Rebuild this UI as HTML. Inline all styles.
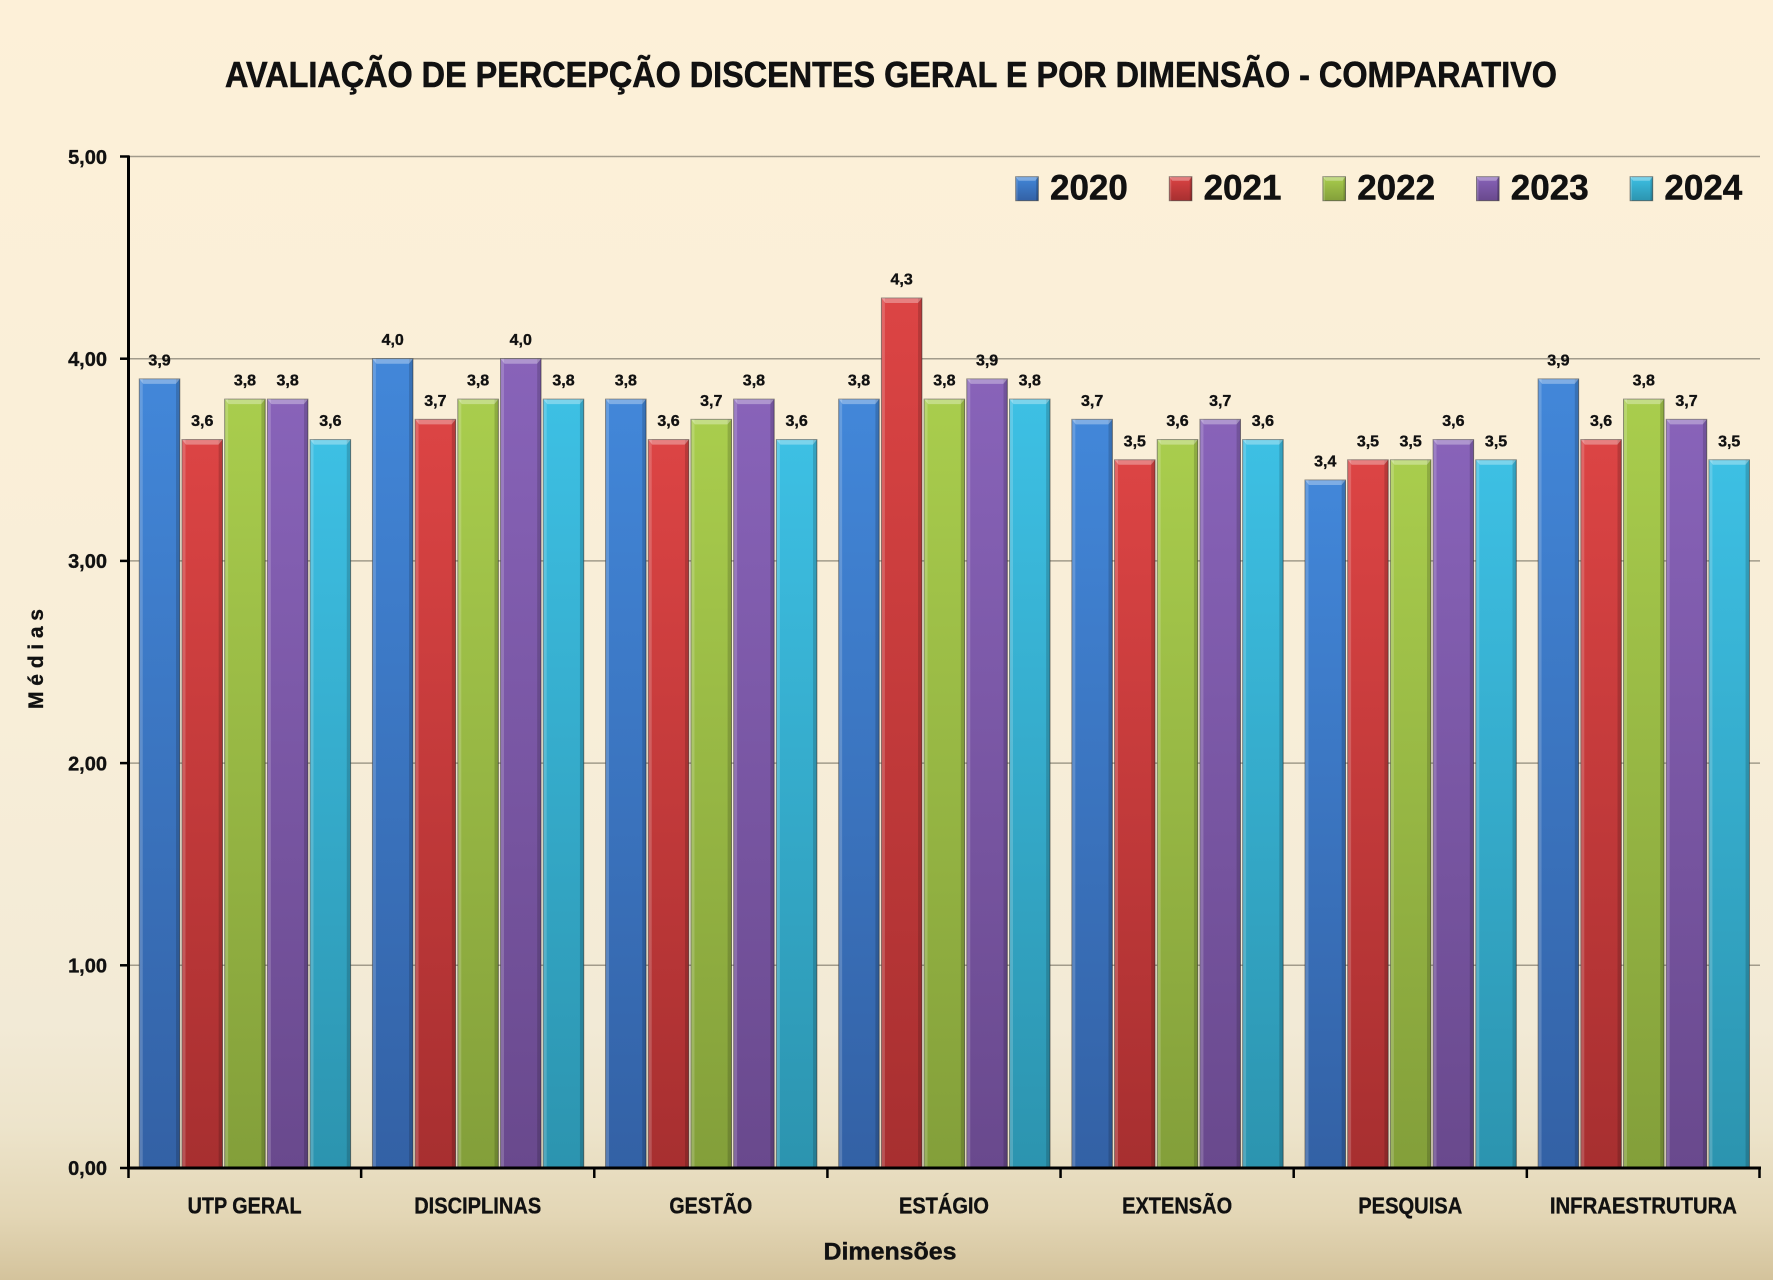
<!DOCTYPE html>
<html><head><meta charset="utf-8"><style>
html,body{margin:0;padding:0;width:1773px;height:1280px;overflow:hidden}
svg{display:block}
text{font-family:"Liberation Sans",Arial,sans-serif;font-weight:bold;fill:#111}
.o{stroke:#2a2a2a;stroke-opacity:.55;stroke-width:1}
.t{fill:#fff;opacity:.32}
.v{font-size:16px;text-anchor:middle;stroke:#111;stroke-width:.35}
.yl{font-size:20px;text-anchor:end;stroke:#111;stroke-width:.35}
.xl{font-size:23px;text-anchor:middle;stroke:#111;stroke-width:.35}
</style></head><body>
<svg width="1773" height="1280" viewBox="0 0 1773 1280" xmlns="http://www.w3.org/2000/svg">
<defs>
<linearGradient id="bg" x1="0" y1="0" x2="0" y2="1">
<stop offset="0" stop-color="#FDF0D8"/><stop offset="0.55" stop-color="#F8EED8"/><stop offset="0.8" stop-color="#F2EAD6"/><stop offset="0.88" stop-color="#EDE4CB"/><stop offset="0.95" stop-color="#E3D6B5"/><stop offset="1" stop-color="#D4C39C"/>
</linearGradient>
<linearGradient id="g0" x1="0" y1="0" x2="0" y2="1"><stop offset="0" stop-color="#4287D9"/><stop offset="1" stop-color="#3361A5"/></linearGradient>
<linearGradient id="g1" x1="0" y1="0" x2="0" y2="1"><stop offset="0" stop-color="#DC4444"/><stop offset="1" stop-color="#A72F30"/></linearGradient>
<linearGradient id="g2" x1="0" y1="0" x2="0" y2="1"><stop offset="0" stop-color="#A9CD4D"/><stop offset="1" stop-color="#839F3A"/></linearGradient>
<linearGradient id="g3" x1="0" y1="0" x2="0" y2="1"><stop offset="0" stop-color="#8863B9"/><stop offset="1" stop-color="#69498D"/></linearGradient>
<linearGradient id="g4" x1="0" y1="0" x2="0" y2="1"><stop offset="0" stop-color="#3DC0E4"/><stop offset="1" stop-color="#2C94AF"/></linearGradient>
<linearGradient id="sh" x1="0" y1="0" x2="1" y2="0">
<stop offset="0" stop-color="#fff" stop-opacity=".18"/><stop offset="0.08" stop-color="#fff" stop-opacity=".18"/><stop offset="0.09" stop-color="#fff" stop-opacity="0"/><stop offset="0.9" stop-color="#000" stop-opacity="0"/><stop offset="0.91" stop-color="#000" stop-opacity=".16"/><stop offset="1" stop-color="#000" stop-opacity=".16"/>
</linearGradient>
</defs>
<rect x="0" y="0" width="1773" height="1280" fill="url(#bg)"/>

<text x="225" y="87" font-size="36" stroke="#111" stroke-width=".6" textLength="1332" lengthAdjust="spacingAndGlyphs">AVALIAÇÃO DE PERCEPÇÃO DISCENTES GERAL E POR DIMENSÃO - COMPARATIVO</text>

<!-- gridlines -->
<g stroke="#A29B8B" stroke-width="1.5">
<line x1="128" y1="156.5" x2="1760" y2="156.5"/>
<line x1="128" y1="358.7" x2="1760" y2="358.7"/>
<line x1="128" y1="560.9" x2="1760" y2="560.9"/>
<line x1="128" y1="763.1" x2="1760" y2="763.1"/>
<line x1="128" y1="965.3" x2="1760" y2="965.3"/>
</g>

<!-- y labels -->
<text class="yl" x="107" y="163.8">5,00</text>
<text class="yl" x="107" y="366">4,00</text>
<text class="yl" x="107" y="568.2">3,00</text>
<text class="yl" x="107" y="770.4">2,00</text>
<text class="yl" x="107" y="972.6">1,00</text>
<text class="yl" x="107" y="1174.8">0,00</text>

<!-- bars -->
<g>
<rect class="o" x="139.3" y="378.92" width="40.5" height="788.58" fill="url(#g0)"/><rect x="139.3" y="378.92" width="40.5" height="788.58" fill="url(#sh)"/><path class="t" d="M139.3,378.92h40.5l-4,5h-32.5z"/>
<rect class="o" x="182" y="439.58" width="40.5" height="727.92" fill="url(#g1)"/><rect x="182" y="439.58" width="40.5" height="727.92" fill="url(#sh)"/><path class="t" d="M182,439.58h40.5l-4,5h-32.5z"/>
<rect class="o" x="224.7" y="399.14" width="40.5" height="768.36" fill="url(#g2)"/><rect x="224.7" y="399.14" width="40.5" height="768.36" fill="url(#sh)"/><path class="t" d="M224.7,399.14h40.5l-4,5h-32.5z"/>
<rect class="o" x="267.4" y="399.14" width="40.5" height="768.36" fill="url(#g3)"/><rect x="267.4" y="399.14" width="40.5" height="768.36" fill="url(#sh)"/><path class="t" d="M267.4,399.14h40.5l-4,5h-32.5z"/>
<rect class="o" x="310.1" y="439.58" width="40.5" height="727.92" fill="url(#g4)"/><rect x="310.1" y="439.58" width="40.5" height="727.92" fill="url(#sh)"/><path class="t" d="M310.1,439.58h40.5l-4,5h-32.5z"/>

<rect class="o" x="372.44" y="358.7" width="40.5" height="808.8" fill="url(#g0)"/><rect x="372.44" y="358.7" width="40.5" height="808.8" fill="url(#sh)"/><path class="t" d="M372.44,358.7h40.5l-4,5h-32.5z"/>
<rect class="o" x="415.14" y="419.36" width="40.5" height="748.14" fill="url(#g1)"/><rect x="415.14" y="419.36" width="40.5" height="748.14" fill="url(#sh)"/><path class="t" d="M415.14,419.36h40.5l-4,5h-32.5z"/>
<rect class="o" x="457.84" y="399.14" width="40.5" height="768.36" fill="url(#g2)"/><rect x="457.84" y="399.14" width="40.5" height="768.36" fill="url(#sh)"/><path class="t" d="M457.84,399.14h40.5l-4,5h-32.5z"/>
<rect class="o" x="500.54" y="358.7" width="40.5" height="808.8" fill="url(#g3)"/><rect x="500.54" y="358.7" width="40.5" height="808.8" fill="url(#sh)"/><path class="t" d="M500.54,358.7h40.5l-4,5h-32.5z"/>
<rect class="o" x="543.24" y="399.14" width="40.5" height="768.36" fill="url(#g4)"/><rect x="543.24" y="399.14" width="40.5" height="768.36" fill="url(#sh)"/><path class="t" d="M543.24,399.14h40.5l-4,5h-32.5z"/>

<rect class="o" x="605.58" y="399.14" width="40.5" height="768.36" fill="url(#g0)"/><rect x="605.58" y="399.14" width="40.5" height="768.36" fill="url(#sh)"/><path class="t" d="M605.58,399.14h40.5l-4,5h-32.5z"/>
<rect class="o" x="648.28" y="439.58" width="40.5" height="727.92" fill="url(#g1)"/><rect x="648.28" y="439.58" width="40.5" height="727.92" fill="url(#sh)"/><path class="t" d="M648.28,439.58h40.5l-4,5h-32.5z"/>
<rect class="o" x="690.98" y="419.36" width="40.5" height="748.14" fill="url(#g2)"/><rect x="690.98" y="419.36" width="40.5" height="748.14" fill="url(#sh)"/><path class="t" d="M690.98,419.36h40.5l-4,5h-32.5z"/>
<rect class="o" x="733.68" y="399.14" width="40.5" height="768.36" fill="url(#g3)"/><rect x="733.68" y="399.14" width="40.5" height="768.36" fill="url(#sh)"/><path class="t" d="M733.68,399.14h40.5l-4,5h-32.5z"/>
<rect class="o" x="776.38" y="439.58" width="40.5" height="727.92" fill="url(#g4)"/><rect x="776.38" y="439.58" width="40.5" height="727.92" fill="url(#sh)"/><path class="t" d="M776.38,439.58h40.5l-4,5h-32.5z"/>

<rect class="o" x="838.72" y="399.14" width="40.5" height="768.36" fill="url(#g0)"/><rect x="838.72" y="399.14" width="40.5" height="768.36" fill="url(#sh)"/><path class="t" d="M838.72,399.14h40.5l-4,5h-32.5z"/>
<rect class="o" x="881.42" y="298.04" width="40.5" height="869.46" fill="url(#g1)"/><rect x="881.42" y="298.04" width="40.5" height="869.46" fill="url(#sh)"/><path class="t" d="M881.42,298.04h40.5l-4,5h-32.5z"/>
<rect class="o" x="924.12" y="399.14" width="40.5" height="768.36" fill="url(#g2)"/><rect x="924.12" y="399.14" width="40.5" height="768.36" fill="url(#sh)"/><path class="t" d="M924.12,399.14h40.5l-4,5h-32.5z"/>
<rect class="o" x="966.82" y="378.92" width="40.5" height="788.58" fill="url(#g3)"/><rect x="966.82" y="378.92" width="40.5" height="788.58" fill="url(#sh)"/><path class="t" d="M966.82,378.92h40.5l-4,5h-32.5z"/>
<rect class="o" x="1009.52" y="399.14" width="40.5" height="768.36" fill="url(#g4)"/><rect x="1009.52" y="399.14" width="40.5" height="768.36" fill="url(#sh)"/><path class="t" d="M1009.52,399.14h40.5l-4,5h-32.5z"/>

<rect class="o" x="1071.86" y="419.36" width="40.5" height="748.14" fill="url(#g0)"/><rect x="1071.86" y="419.36" width="40.5" height="748.14" fill="url(#sh)"/><path class="t" d="M1071.86,419.36h40.5l-4,5h-32.5z"/>
<rect class="o" x="1114.56" y="459.8" width="40.5" height="707.7" fill="url(#g1)"/><rect x="1114.56" y="459.8" width="40.5" height="707.7" fill="url(#sh)"/><path class="t" d="M1114.56,459.8h40.5l-4,5h-32.5z"/>
<rect class="o" x="1157.26" y="439.58" width="40.5" height="727.92" fill="url(#g2)"/><rect x="1157.26" y="439.58" width="40.5" height="727.92" fill="url(#sh)"/><path class="t" d="M1157.26,439.58h40.5l-4,5h-32.5z"/>
<rect class="o" x="1199.96" y="419.36" width="40.5" height="748.14" fill="url(#g3)"/><rect x="1199.96" y="419.36" width="40.5" height="748.14" fill="url(#sh)"/><path class="t" d="M1199.96,419.36h40.5l-4,5h-32.5z"/>
<rect class="o" x="1242.66" y="439.58" width="40.5" height="727.92" fill="url(#g4)"/><rect x="1242.66" y="439.58" width="40.5" height="727.92" fill="url(#sh)"/><path class="t" d="M1242.66,439.58h40.5l-4,5h-32.5z"/>

<rect class="o" x="1305" y="480.02" width="40.5" height="687.48" fill="url(#g0)"/><rect x="1305" y="480.02" width="40.5" height="687.48" fill="url(#sh)"/><path class="t" d="M1305,480.02h40.5l-4,5h-32.5z"/>
<rect class="o" x="1347.7" y="459.8" width="40.5" height="707.7" fill="url(#g1)"/><rect x="1347.7" y="459.8" width="40.5" height="707.7" fill="url(#sh)"/><path class="t" d="M1347.7,459.8h40.5l-4,5h-32.5z"/>
<rect class="o" x="1390.4" y="459.8" width="40.5" height="707.7" fill="url(#g2)"/><rect x="1390.4" y="459.8" width="40.5" height="707.7" fill="url(#sh)"/><path class="t" d="M1390.4,459.8h40.5l-4,5h-32.5z"/>
<rect class="o" x="1433.1" y="439.58" width="40.5" height="727.92" fill="url(#g3)"/><rect x="1433.1" y="439.58" width="40.5" height="727.92" fill="url(#sh)"/><path class="t" d="M1433.1,439.58h40.5l-4,5h-32.5z"/>
<rect class="o" x="1475.8" y="459.8" width="40.5" height="707.7" fill="url(#g4)"/><rect x="1475.8" y="459.8" width="40.5" height="707.7" fill="url(#sh)"/><path class="t" d="M1475.8,459.8h40.5l-4,5h-32.5z"/>

<rect class="o" x="1538.14" y="378.92" width="40.5" height="788.58" fill="url(#g0)"/><rect x="1538.14" y="378.92" width="40.5" height="788.58" fill="url(#sh)"/><path class="t" d="M1538.14,378.92h40.5l-4,5h-32.5z"/>
<rect class="o" x="1580.84" y="439.58" width="40.5" height="727.92" fill="url(#g1)"/><rect x="1580.84" y="439.58" width="40.5" height="727.92" fill="url(#sh)"/><path class="t" d="M1580.84,439.58h40.5l-4,5h-32.5z"/>
<rect class="o" x="1623.54" y="399.14" width="40.5" height="768.36" fill="url(#g2)"/><rect x="1623.54" y="399.14" width="40.5" height="768.36" fill="url(#sh)"/><path class="t" d="M1623.54,399.14h40.5l-4,5h-32.5z"/>
<rect class="o" x="1666.24" y="419.36" width="40.5" height="748.14" fill="url(#g3)"/><rect x="1666.24" y="419.36" width="40.5" height="748.14" fill="url(#sh)"/><path class="t" d="M1666.24,419.36h40.5l-4,5h-32.5z"/>
<rect class="o" x="1708.94" y="459.8" width="40.5" height="707.7" fill="url(#g4)"/><rect x="1708.94" y="459.8" width="40.5" height="707.7" fill="url(#sh)"/><path class="t" d="M1708.94,459.8h40.5l-4,5h-32.5z"/>
</g>

<!-- value labels -->
<g>
<text class="v" x="159.55" y="365.4">3,9</text>
<text class="v" x="202.25" y="426.1">3,6</text>
<text class="v" x="244.95" y="385.6">3,8</text>
<text class="v" x="287.65" y="385.6">3,8</text>
<text class="v" x="330.35" y="426.1">3,6</text>

<text class="v" x="392.69" y="345.2">4,0</text>
<text class="v" x="435.39" y="405.9">3,7</text>
<text class="v" x="478.09" y="385.6">3,8</text>
<text class="v" x="520.79" y="345.2">4,0</text>
<text class="v" x="563.49" y="385.6">3,8</text>

<text class="v" x="625.83" y="385.6">3,8</text>
<text class="v" x="668.53" y="426.1">3,6</text>
<text class="v" x="711.23" y="405.9">3,7</text>
<text class="v" x="753.93" y="385.6">3,8</text>
<text class="v" x="796.63" y="426.1">3,6</text>

<text class="v" x="858.97" y="385.6">3,8</text>
<text class="v" x="901.67" y="284.5">4,3</text>
<text class="v" x="944.37" y="385.6">3,8</text>
<text class="v" x="987.07" y="365.4">3,9</text>
<text class="v" x="1029.77" y="385.6">3,8</text>

<text class="v" x="1092.11" y="405.9">3,7</text>
<text class="v" x="1134.81" y="446.3">3,5</text>
<text class="v" x="1177.51" y="426.1">3,6</text>
<text class="v" x="1220.21" y="405.9">3,7</text>
<text class="v" x="1262.91" y="426.1">3,6</text>

<text class="v" x="1325.25" y="466.5">3,4</text>
<text class="v" x="1367.95" y="446.3">3,5</text>
<text class="v" x="1410.65" y="446.3">3,5</text>
<text class="v" x="1453.35" y="426.1">3,6</text>
<text class="v" x="1496.05" y="446.3">3,5</text>

<text class="v" x="1558.39" y="365.4">3,9</text>
<text class="v" x="1601.09" y="426.1">3,6</text>
<text class="v" x="1643.79" y="385.6">3,8</text>
<text class="v" x="1686.49" y="405.9">3,7</text>
<text class="v" x="1729.19" y="446.3">3,5</text>
</g>

<!-- axes -->
<g stroke="#000" stroke-width="3" fill="none">
<line x1="128.5" y1="155.5" x2="128.5" y2="1169"/>
<line x1="127" y1="1168" x2="1761" y2="1168"/>
</g>
<g stroke="#000" stroke-width="2.5">
<line x1="120" y1="156.5" x2="129" y2="156.5"/>
<line x1="120" y1="358.7" x2="129" y2="358.7"/>
<line x1="120" y1="560.9" x2="129" y2="560.9"/>
<line x1="120" y1="763.1" x2="129" y2="763.1"/>
<line x1="120" y1="965.3" x2="129" y2="965.3"/>
<line x1="120" y1="1168" x2="129" y2="1168"/>
<line x1="128.5" y1="1167" x2="128.5" y2="1178"/>
<line x1="361.14" y1="1167" x2="361.14" y2="1178"/>
<line x1="594.28" y1="1167" x2="594.28" y2="1178"/>
<line x1="827.42" y1="1167" x2="827.42" y2="1178"/>
<line x1="1060.56" y1="1167" x2="1060.56" y2="1178"/>
<line x1="1293.7" y1="1167" x2="1293.7" y2="1178"/>
<line x1="1526.84" y1="1167" x2="1526.84" y2="1178"/>
<line x1="1759.5" y1="1167" x2="1759.5" y2="1178"/>
</g>

<!-- x labels -->
<text class="xl" x="244.57" y="1213.3" textLength="114" lengthAdjust="spacingAndGlyphs">UTP GERAL</text>
<text class="xl" x="477.71" y="1213.3" textLength="127" lengthAdjust="spacingAndGlyphs">DISCIPLINAS</text>
<text class="xl" x="710.85" y="1213.3" textLength="83" lengthAdjust="spacingAndGlyphs">GESTÃO</text>
<text class="xl" x="943.99" y="1213.3" textLength="90" lengthAdjust="spacingAndGlyphs">ESTÁGIO</text>
<text class="xl" x="1177.13" y="1213.3" textLength="110" lengthAdjust="spacingAndGlyphs">EXTENSÃO</text>
<text class="xl" x="1410.27" y="1213.3" textLength="104" lengthAdjust="spacingAndGlyphs">PESQUISA</text>
<text class="xl" x="1643.41" y="1213.3" textLength="187" lengthAdjust="spacingAndGlyphs">INFRAESTRUTURA</text>

<!-- axis titles -->
<text x="890" y="1259.3" font-size="24" stroke="#111" stroke-width=".4" text-anchor="middle" textLength="133" lengthAdjust="spacingAndGlyphs">Dimensões</text>
<text transform="translate(43,659) rotate(-90)" font-size="21" stroke="#111" stroke-width=".3" text-anchor="middle" textLength="100" lengthAdjust="spacing">Médias</text>

<!-- legend -->
<g>
<rect class="o" x="1015.7" y="176.7" width="22.6" height="24" fill="url(#g0)"/><rect x="1015.7" y="176.7" width="22.6" height="24" fill="url(#sh)"/><path class="t" d="M1015.7,176.7h22.6l-3,4h-16.6z"/>
<text x="1050" y="199.3" font-size="35" stroke="#111" stroke-width=".5">2020</text>
<rect class="o" x="1169.3" y="176.7" width="22.6" height="24" fill="url(#g1)"/><rect x="1169.3" y="176.7" width="22.6" height="24" fill="url(#sh)"/><path class="t" d="M1169.3,176.7h22.6l-3,4h-16.6z"/>
<text x="1203.6" y="199.3" font-size="35" stroke="#111" stroke-width=".5">2021</text>
<rect class="o" x="1322.9" y="176.7" width="22.6" height="24" fill="url(#g2)"/><rect x="1322.9" y="176.7" width="22.6" height="24" fill="url(#sh)"/><path class="t" d="M1322.9,176.7h22.6l-3,4h-16.6z"/>
<text x="1357.2" y="199.3" font-size="35" stroke="#111" stroke-width=".5">2022</text>
<rect class="o" x="1476.5" y="176.7" width="22.6" height="24" fill="url(#g3)"/><rect x="1476.5" y="176.7" width="22.6" height="24" fill="url(#sh)"/><path class="t" d="M1476.5,176.7h22.6l-3,4h-16.6z"/>
<text x="1510.8" y="199.3" font-size="35" stroke="#111" stroke-width=".5">2023</text>
<rect class="o" x="1630.1" y="176.7" width="22.6" height="24" fill="url(#g4)"/><rect x="1630.1" y="176.7" width="22.6" height="24" fill="url(#sh)"/><path class="t" d="M1630.1,176.7h22.6l-3,4h-16.6z"/>
<text x="1664.4" y="199.3" font-size="35" stroke="#111" stroke-width=".5">2024</text>
</g>
</svg>
</body></html>
